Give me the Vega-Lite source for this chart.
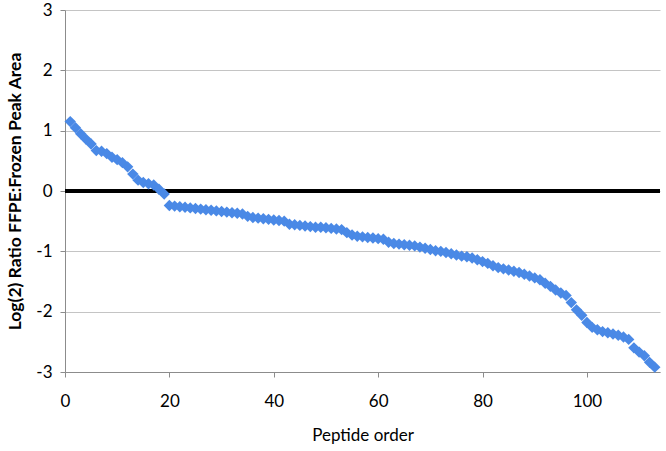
{
  "$schema": "https://vega.github.io/schema/vega-lite/v6.json",
  "width": 595,
  "height": 362,
  "autosize": "none",
  "padding": {"left": 65, "top": 10, "right": 6, "bottom": 79},
  "background": "white",
  "config": {
    "view": {"stroke": null},
    "font": "Lato"
  },
  "data": {
    "values": [
      {"order": 1, "ratio": 1.15}, {"order": 2, "ratio": 1.05}, {"order": 3, "ratio": 0.95}, {"order": 4, "ratio": 0.86},
      {"order": 5, "ratio": 0.78}, {"order": 6, "ratio": 0.67}, {"order": 7, "ratio": 0.66}, {"order": 8, "ratio": 0.62},
      {"order": 9, "ratio": 0.56}, {"order": 10, "ratio": 0.52}, {"order": 11, "ratio": 0.47}, {"order": 12, "ratio": 0.40},
      {"order": 13, "ratio": 0.28}, {"order": 14, "ratio": 0.18}, {"order": 15, "ratio": 0.14}, {"order": 16, "ratio": 0.12},
      {"order": 17, "ratio": 0.10}, {"order": 18, "ratio": 0.03}, {"order": 19, "ratio": -0.05}, {"order": 20, "ratio": -0.24},
      {"order": 21, "ratio": -0.25}, {"order": 22, "ratio": -0.26}, {"order": 23, "ratio": -0.27}, {"order": 24, "ratio": -0.28},
      {"order": 25, "ratio": -0.29}, {"order": 26, "ratio": -0.30}, {"order": 27, "ratio": -0.31}, {"order": 28, "ratio": -0.32},
      {"order": 29, "ratio": -0.33}, {"order": 30, "ratio": -0.34}, {"order": 31, "ratio": -0.35}, {"order": 32, "ratio": -0.36},
      {"order": 33, "ratio": -0.37}, {"order": 34, "ratio": -0.38}, {"order": 35, "ratio": -0.42}, {"order": 36, "ratio": -0.44},
      {"order": 37, "ratio": -0.45}, {"order": 38, "ratio": -0.46}, {"order": 39, "ratio": -0.47}, {"order": 40, "ratio": -0.48},
      {"order": 41, "ratio": -0.49}, {"order": 42, "ratio": -0.50}, {"order": 43, "ratio": -0.55}, {"order": 44, "ratio": -0.56},
      {"order": 45, "ratio": -0.57}, {"order": 46, "ratio": -0.58}, {"order": 47, "ratio": -0.59}, {"order": 48, "ratio": -0.60},
      {"order": 49, "ratio": -0.60}, {"order": 50, "ratio": -0.61}, {"order": 51, "ratio": -0.62}, {"order": 52, "ratio": -0.63},
      {"order": 53, "ratio": -0.64}, {"order": 54, "ratio": -0.69}, {"order": 55, "ratio": -0.73}, {"order": 56, "ratio": -0.75},
      {"order": 57, "ratio": -0.76}, {"order": 58, "ratio": -0.77}, {"order": 59, "ratio": -0.78}, {"order": 60, "ratio": -0.79},
      {"order": 61, "ratio": -0.80}, {"order": 62, "ratio": -0.85}, {"order": 63, "ratio": -0.87}, {"order": 64, "ratio": -0.88},
      {"order": 65, "ratio": -0.89}, {"order": 66, "ratio": -0.90}, {"order": 67, "ratio": -0.91}, {"order": 68, "ratio": -0.93},
      {"order": 69, "ratio": -0.95}, {"order": 70, "ratio": -0.97}, {"order": 71, "ratio": -0.99}, {"order": 72, "ratio": -1.00},
      {"order": 73, "ratio": -1.02}, {"order": 74, "ratio": -1.04}, {"order": 75, "ratio": -1.06}, {"order": 76, "ratio": -1.08},
      {"order": 77, "ratio": -1.09}, {"order": 78, "ratio": -1.11}, {"order": 79, "ratio": -1.14}, {"order": 80, "ratio": -1.17},
      {"order": 81, "ratio": -1.20}, {"order": 82, "ratio": -1.24}, {"order": 83, "ratio": -1.27}, {"order": 84, "ratio": -1.29},
      {"order": 85, "ratio": -1.31}, {"order": 86, "ratio": -1.33}, {"order": 87, "ratio": -1.35}, {"order": 88, "ratio": -1.38},
      {"order": 89, "ratio": -1.41}, {"order": 90, "ratio": -1.44}, {"order": 91, "ratio": -1.47}, {"order": 92, "ratio": -1.53},
      {"order": 93, "ratio": -1.58}, {"order": 94, "ratio": -1.64}, {"order": 95, "ratio": -1.69}, {"order": 96, "ratio": -1.73},
      {"order": 97, "ratio": -1.85}, {"order": 98, "ratio": -1.97}, {"order": 99, "ratio": -2.06}, {"order": 100, "ratio": -2.18},
      {"order": 101, "ratio": -2.26}, {"order": 102, "ratio": -2.30}, {"order": 103, "ratio": -2.33}, {"order": 104, "ratio": -2.35},
      {"order": 105, "ratio": -2.37}, {"order": 106, "ratio": -2.39}, {"order": 107, "ratio": -2.42}, {"order": 108, "ratio": -2.46},
      {"order": 109, "ratio": -2.60}, {"order": 110, "ratio": -2.67}, {"order": 111, "ratio": -2.73}, {"order": 112, "ratio": -2.84},
      {"order": 113, "ratio": -2.92}
    ]
  },
  "layer": [
    {
      "mark": {"type": "rule", "color": "#000000", "strokeWidth": 2.5},
      "encoding": {
        "y": {"datum": 0, "type": "quantitative", "scale": {"domain": [-3, 3]}}
      }
    },
    {
      "mark": {"type": "point", "shape": "diamond", "filled": true, "size": 130, "color": "#4a89e6", "opacity": 1, "clip": false},
      "encoding": {
        "x": {
          "field": "order", "type": "quantitative",
          "scale": {"domain": [0, 114], "nice": false, "zero": false},
          "axis": {
            "title": "Peptide order",
            "titleFontSize": 17, "titleFontWeight": "normal", "titleColor": "#000000", "titlePadding": 18,
            "values": [0, 20, 40, 60, 80, 100],
            "labelFontSize": 17, "labelColor": "#000000", "labelPadding": 16,
            "tickSize": 5, "tickColor": "#8c8c8c", "domainColor": "#8c8c8c",
            "grid": false, "labelFlush": false
          }
        },
        "y": {
          "field": "ratio", "type": "quantitative",
          "scale": {"domain": [-3, 3], "nice": false},
          "axis": {
            "title": "Log(2) Ratio FFPE:Frozen Peak Area",
            "titleFontSize": 17.5, "titleFontWeight": "bold", "titleColor": "#000000", "titlePadding": 11,
            "values": [-3, -2, -1, 0, 1, 2, 3],
            "labelExpr": "'' + datum.value",
            "labelFontSize": 17, "labelColor": "#000000", "labelPadding": 8,
            "tickSize": 5, "tickColor": "#8c8c8c", "domainColor": "#8c8c8c",
            "grid": true, "gridColor": "#c4c4c4", "gridWidth": 1,
            "labelFlush": false
          }
        }
      }
    }
  ]
}
